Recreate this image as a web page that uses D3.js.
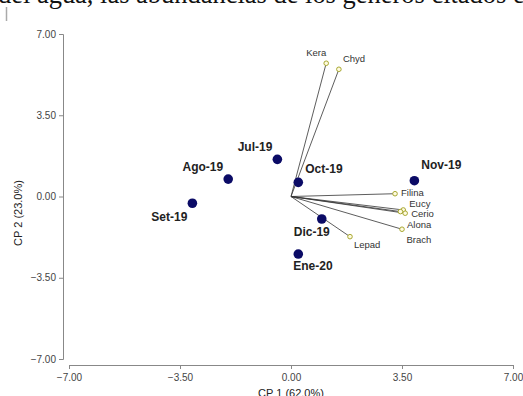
<!DOCTYPE html>
<html><head><meta charset="utf-8">
<script src="https://cdn.jsdelivr.net/npm/d3@7"></script>
<style>body{margin:0;background:#fff;}svg{display:block;}</style>
</head><body>
<svg id="c" width="523" height="396"></svg>
<script>
// Data
const sites = ["Jul-19","Ago-19","Set-19","Oct-19","Nov-19","Dic-19","Ene-20"];
const siteX = [-0.43,-1.98,-3.11,0.23,3.89,0.97,0.23];
const siteY = [1.60,0.75,-0.29,0.61,0.68,-0.97,-2.48];
const vars = ["Kera","Chyd","Filina","Eucy","Cerio","Brach","Alona","Lepad"];
const varX = [1.11,1.51,3.28,3.54,3.60,3.45,3.50,1.86];
const varY = [5.74,5.48,0.12,-0.58,-0.72,-0.65,-1.41,-1.73];
const ticks = [-7,-3.5,0,3.5,7];
const xTitle = "CP 1 (62.0%)", yTitle = "CP 2 (23.0%)";
const topText = "del agua, las abundancias de los géneros citados e";

// Layout (label offsets in px)
const siteLab = [[-5,-8,"end"],[-5,-8,"end"],[-5,18,"end"],[7,-9,"start"],[7,-12,"start"],[8,17,"end"],[-5,16,"start"]];
const varLab = [[-20,-7,"start"],[4,-7,"start"],[6,2,"start"],[6,-3,"start"],[6,4,"start"],[6,31,"start"],[5,-1,"start"],[4,11,"start"]];

const svg = d3.select("#c");
const x = d3.scaleLinear().domain([-7,7]).range([69,513]);
const y = d3.scaleLinear().domain([-7,7]).range([359,34]);

const tt = svg.append("text").attr("x",-2).attr("y",3).attr("font-family","Liberation Serif, serif")
  .attr("font-size",20).attr("fill","#111").text(topText);
const natural = tt.node().getComputedTextLength();
tt.attr("font-size", 20 * 527 / natural);
svg.append("line").attr("x1",6.5).attr("x2",6.5).attr("y1",7).attr("y2",21).attr("stroke","#aaa").attr("stroke-width",1.5);

const ax = svg.append("g").attr("transform","translate(0,365)")
  .call(d3.axisBottom(x).tickValues(ticks).tickFormat(d3.format(".2f")).tickSize(4).tickSizeOuter(4));
const ay = svg.append("g").attr("transform","translate(63,0)")
  .call(d3.axisLeft(y).tickValues(ticks).tickFormat(d3.format(".2f")).tickSize(4).tickSizeOuter(4));
[ax,ay].forEach(g=>{
  g.select(".domain").attr("stroke","#888");
  g.selectAll(".tick line").attr("stroke","#888");
  g.selectAll(".tick text").attr("fill","#444").attr("font-family","Liberation Sans, Arial, sans-serif").attr("font-size",10);
});
ax.selectAll(".tick text").attr("dy","0.9em");

svg.append("text").attr("x",291).attr("y",396.5).attr("text-anchor","middle")
  .attr("font-family","Liberation Sans, Arial, sans-serif").attr("font-size",11).attr("fill","#222").text(xTitle);
svg.append("text").attr("transform","translate(22,213) rotate(-90)").attr("text-anchor","middle")
  .attr("font-family","Liberation Sans, Arial, sans-serif").attr("font-size",11).attr("fill","#222").text(yTitle);

// vectors
const vg = svg.append("g");
vars.forEach((v,i)=>{
  vg.append("line").attr("x1",x(0)).attr("y1",y(0)).attr("x2",x(varX[i])).attr("y2",y(varY[i]))
    .attr("stroke","#333").attr("stroke-width",0.8);
});
vars.forEach((v,i)=>{
  vg.append("circle").attr("cx",x(varX[i])).attr("cy",y(varY[i])).attr("r",2.3)
    .attr("fill","#fffbe0").attr("stroke","#a8a832").attr("stroke-width",1);
  vg.append("text").attr("x",x(varX[i])+varLab[i][0]).attr("y",y(varY[i])+varLab[i][1])
    .attr("text-anchor",varLab[i][2]).attr("font-family","Liberation Sans, Arial, sans-serif")
    .attr("font-size",9.5).attr("fill","#333").text(v);
});

// sites
const sg = svg.append("g");
sites.forEach((s,i)=>{
  sg.append("circle").attr("cx",x(siteX[i])).attr("cy",y(siteY[i])).attr("r",4.8).attr("fill","#0b0b66");
  sg.append("text").attr("x",x(siteX[i])+siteLab[i][0]).attr("y",y(siteY[i])+siteLab[i][1])
    .attr("text-anchor",siteLab[i][2]).attr("font-family","Liberation Sans, Arial, sans-serif")
    .attr("font-size",12).attr("font-weight","bold").attr("fill","#222").text(s);
});
</script>
</body></html>
